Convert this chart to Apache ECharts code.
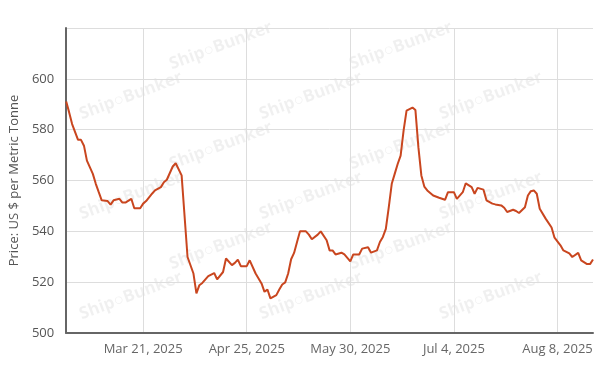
<!DOCTYPE html>
<html>
<head>
<meta charset="utf-8">
<script src="https://cdn.jsdelivr.net/npm/echarts@6/dist/echarts.min.js"></script>
<style>
html,body{margin:0;padding:0;background:#fff;}
#chart{width:605px;height:375px;}
</style>
</head>
<body>
<div id="chart"></div>
<script>
var dates = ['2025-02-23','2025-02-24','2025-02-25','2025-02-27','2025-02-28','2025-03-01','2025-03-02','2025-03-04','2025-03-05','2025-03-06','2025-03-07','2025-03-09','2025-03-10','2025-03-11','2025-03-13','2025-03-14','2025-03-15','2025-03-17','2025-03-18','2025-03-20','2025-03-21','2025-03-22','2025-03-24','2025-03-25','2025-03-27','2025-03-28','2025-03-29','2025-03-31','2025-04-01','2025-04-03','2025-04-05','2025-04-07','2025-04-08','2025-04-09','2025-04-10','2025-04-12','2025-04-14','2025-04-15','2025-04-17','2025-04-18','2025-04-20','2025-04-21','2025-04-22','2025-04-23','2025-04-25','2025-04-26','2025-04-28','2025-04-30','2025-05-01','2025-05-02','2025-05-03','2025-05-05','2025-05-06','2025-05-07','2025-05-08','2025-05-09','2025-05-10','2025-05-11','2025-05-12','2025-05-13','2025-05-15','2025-05-16','2025-05-17','2025-05-19','2025-05-20','2025-05-22','2025-05-23','2025-05-24','2025-05-25','2025-05-27','2025-05-28','2025-05-30','2025-05-31','2025-06-02','2025-06-03','2025-06-05','2025-06-06','2025-06-08','2025-06-09','2025-06-10','2025-06-11','2025-06-12','2025-06-13','2025-06-14','2025-06-15','2025-06-16','2025-06-17','2025-06-18','2025-06-20','2025-06-21','2025-06-22','2025-06-23','2025-06-24','2025-06-25','2025-06-27','2025-06-29','2025-07-01','2025-07-02','2025-07-04','2025-07-05','2025-07-07','2025-07-08','2025-07-10','2025-07-11','2025-07-12','2025-07-14','2025-07-15','2025-07-17','2025-07-18','2025-07-20','2025-07-21','2025-07-22','2025-07-24','2025-07-25','2025-07-26','2025-07-28','2025-07-29','2025-07-30','2025-07-31','2025-08-01','2025-08-02','2025-08-04','2025-08-06','2025-08-07','2025-08-09','2025-08-10','2025-08-12','2025-08-13','2025-08-15','2025-08-16','2025-08-18','2025-08-19','2025-08-20'];
var prices = [591.1,586.8,582.2,576.0,576.0,573.7,567.8,562.6,558.7,555.4,552.2,551.9,550.5,552.2,552.8,551.3,551.3,552.8,549.1,549.1,550.9,551.9,554.8,556.1,557.4,559.3,560.3,565.5,566.8,562.0,529.9,523.4,515.6,518.8,519.7,522.4,523.6,521.1,524.0,529.3,526.7,527.6,528.9,526.3,526.3,528.6,523.4,519.5,516.2,517.1,513.6,514.9,517.1,519.1,519.9,523.4,529.0,531.5,535.8,540.0,540.0,538.7,536.9,538.7,540.0,536.5,532.5,532.5,530.9,531.6,530.9,528.2,530.9,530.9,533.2,533.7,531.6,532.5,535.8,537.8,541.0,549.5,558.7,562.6,566.5,569.8,579.6,587.5,588.7,587.7,573.1,562.0,557.6,556.1,554.1,553.2,552.4,555.4,555.4,552.8,555.4,558.9,557.4,554.8,557.1,556.4,552.2,550.9,550.6,550.2,549.3,547.6,548.5,548.0,547.2,549.5,554.1,555.8,556.1,554.8,548.9,545.0,541.5,537.5,534.5,532.5,531.3,529.9,531.5,528.6,527.1,527.1,528.9];
var xTickDates = ['2025-03-21','2025-04-25','2025-05-30','2025-07-04','2025-08-08'];
var xMin = '2025-02-23', xMax = '2025-08-20';
var yMin = 500, yMax = 620, yStep = 20;
var yTitle = 'Price: US $ per Metric Tonne';
var watermarkText = 'Ship\u25CBBunker';
var months = ['Jan','Feb','Mar','Apr','May','Jun','Jul','Aug','Sep','Oct','Nov','Dec'];

function parseDay(s){var p=s.split('-');return Date.UTC(+p[0],+p[1]-1,+p[2]);}
var seriesData = dates.map(function(d,i){return [parseDay(d), prices[i]];});
var tickVals = xTickDates.map(parseDay);

// faint repeating watermark inside the plot area
var wm = [];
var plotL = 63, plotR = 593, plotT = 28, plotB = 333;
for (var row = 0; row < 7; row++) {
  for (var col = 0; col < 4; col++) {
    var x = plotL + 20 + col * 180 + (row % 2) * 90 - 90;
    var y = plotT + 45 + row * 50;
    if (x < plotL || x > plotR - 100 || y > plotB - 5) continue;
    wm.push({type:'text', x:x, y:y, rotation:0.36, silent:true, z:-1,
      style:{text: watermarkText, fill:'rgba(0,0,0,0.06)', font:'bold 17px "Open Sans", sans-serif', textVerticalAlign:'bottom'}});
  }
}

var chart = echarts.init(document.getElementById('chart'));
chart.setOption({
  animation:false,
  backgroundColor:'#fff',
  graphic: wm,
  grid:{left:63, right:12, top:28, bottom:42, containLabel:false},
  xAxis:{
    type:'value', min:parseDay(xMin), max:parseDay(xMax),
    axisLine:{show:true, lineStyle:{color:'#666', width:2}},
    axisTick:{show:false, customValues: tickVals},
    axisLabel:{customValues: tickVals, color:'#666', fontSize:13, fontFamily:'"Open Sans", sans-serif', margin:10,
      formatter:function(v){var d=new Date(v);return months[d.getUTCMonth()]+' '+d.getUTCDate()+', '+d.getUTCFullYear();}},
    splitLine:{show:true, lineStyle:{color:'#ddd', width:1}}
  },
  yAxis:{
    type:'value', min:yMin, max:yMax, interval:yStep,
    name:yTitle, nameLocation:'middle', nameGap:42, nameRotate:90,
    nameTextStyle:{color:'#555', fontSize:13, fontFamily:'"Open Sans", sans-serif'},
    axisLine:{show:true, lineStyle:{color:'#666', width:2}},
    axisTick:{show:false},
    axisLabel:{color:'#555', fontSize:13, fontFamily:'"Open Sans", sans-serif', margin:12,
      formatter:function(v){return v===yMax?'':String(v);}},
    splitLine:{show:true, lineStyle:{color:'#ddd', width:1}}
  },
  series:[{
    type:'line', data:seriesData, showSymbol:false, symbol:'none',
    lineStyle:{color:'#c9461f', width:2}, z:3
  }]
});
</script>
</body>
</html>
